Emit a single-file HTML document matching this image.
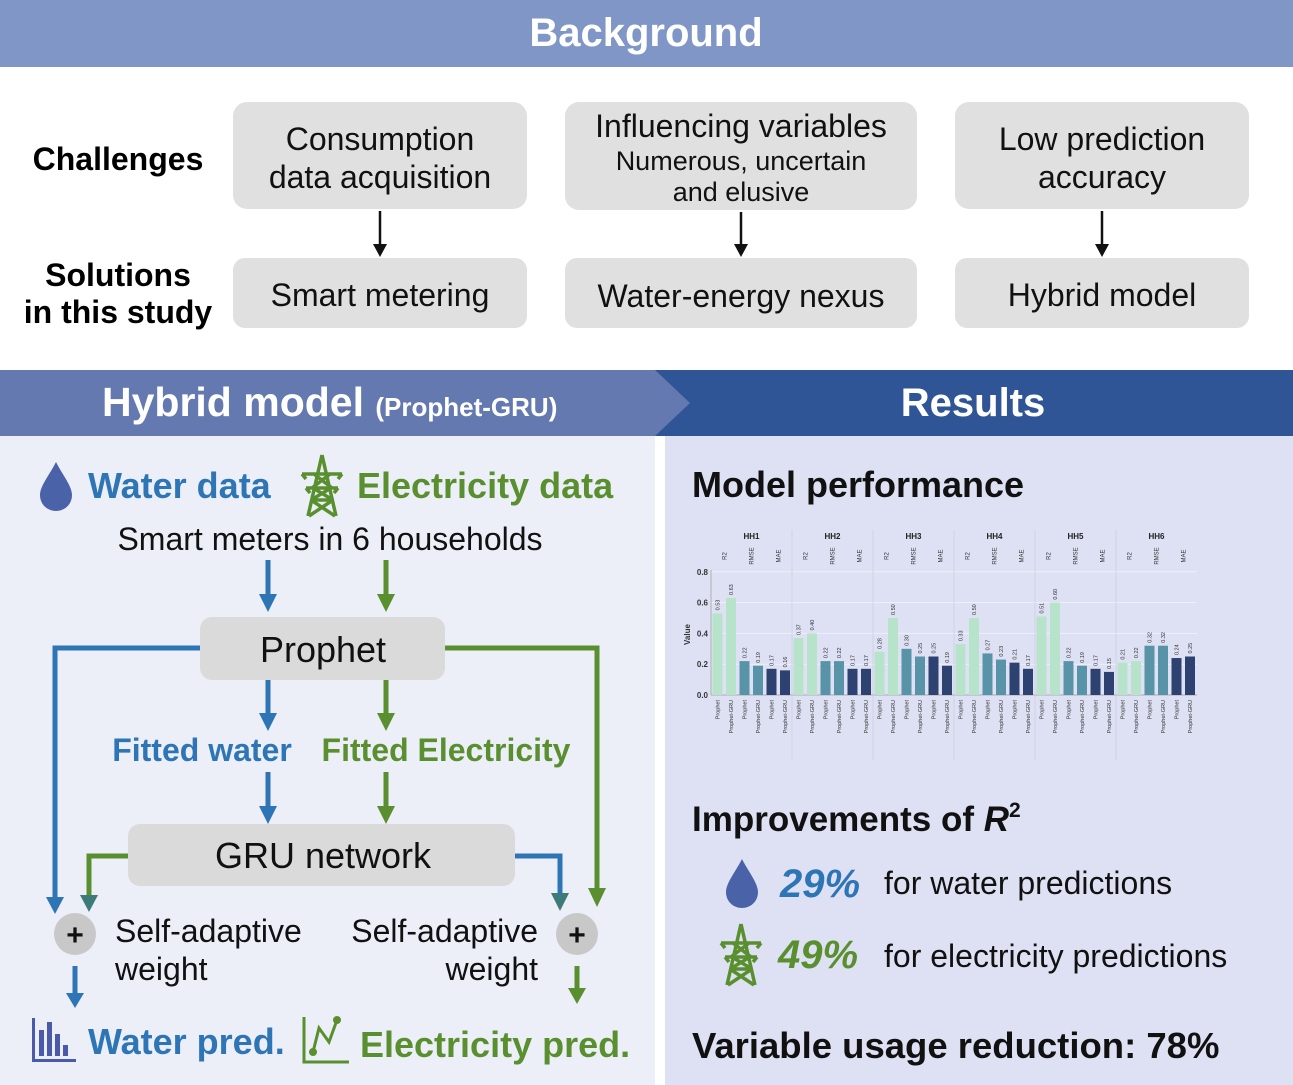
<!DOCTYPE html>
<html><head><meta charset="utf-8"><style>
html,body{margin:0;padding:0;background:#fff}
svg{display:block;font-family:"Liberation Sans",Arial,sans-serif}
</style></head><body>
<svg id="s" width="1293" height="1085" viewBox="0 0 1293 1085" xmlns="http://www.w3.org/2000/svg">
<defs>
<g id="tower" fill="none" stroke-width="3.5" stroke-linejoin="round">
<path d="M0,-31 L-14,30 M0,-31 L14,30 M-20,-12 L20,-12 M-20,-12 L-16,-7 M20,-12 L16,-7 M-16,2 L16,2 M-16,2 L-12,7 M16,2 L12,7 M-8,-12 L10,2 M8,-12 L-10,2 M-11,14 L11,14 M-11,14 L13,30 M11,14 L-13,30 M-9,2 L11,14 M9,2 L-11,14"/>
</g>
<path id="drop" d="M0,-24 C6,-12 16,0 16,9 C16,19 8,25 0,25 C-8,25 -16,19 -16,9 C-16,0 -6,-12 0,-24Z"/>
</defs>
<rect x="0" y="0" width="1293" height="67" fill="#8096c6"/>
<text x="646" y="46" font-size="40" font-weight="bold" fill="#fff" text-anchor="middle">Background</text>
<text x="118" y="170" font-size="32" font-weight="bold" text-anchor="middle">Challenges</text>
<text x="118" y="286" font-size="32" font-weight="bold" text-anchor="middle">Solutions</text>
<text x="118" y="323" font-size="32" font-weight="bold" text-anchor="middle">in this study</text>
<g fill="#e0e0e0">
<rect x="233" y="102" width="294" height="107" rx="14"/>
<rect x="565" y="102" width="352" height="108" rx="14"/>
<rect x="955" y="102" width="294" height="107" rx="14"/>
<rect x="233" y="258" width="294" height="70" rx="12"/>
<rect x="565" y="258" width="352" height="70" rx="12"/>
<rect x="955" y="258" width="294" height="70" rx="12"/>
</g>
<g font-size="32" text-anchor="middle" fill="#111">
<text x="380" y="150">Consumption</text>
<text x="380" y="188">data acquisition</text>
<text x="741" y="137">Influencing variables</text>
<text x="741" y="170" font-size="27">Numerous, uncertain</text>
<text x="741" y="201" font-size="27">and elusive</text>
<text x="1102" y="150">Low prediction</text>
<text x="1102" y="188">accuracy</text>
<text x="380" y="306">Smart metering</text>
<text x="741" y="307">Water-energy nexus</text>
<text x="1102" y="306">Hybrid model</text>
</g>
<g stroke="#111" stroke-width="2.5" fill="#111">
<line x1="380" y1="211" x2="380" y2="248"/><path d="M373,244 L387,244 L380,257Z" stroke="none"/>
<line x1="741" y1="212" x2="741" y2="248"/><path d="M734,244 L748,244 L741,257Z" stroke="none"/>
<line x1="1102" y1="211" x2="1102" y2="248"/><path d="M1095,244 L1109,244 L1102,257Z" stroke="none"/>
</g>
<rect x="0" y="370" width="1293" height="66" fill="#fff"/>
<polygon points="655,370 1293,370 1293,436 655,436" fill="#2f5597"/>
<polygon points="0,370 655,370 690,403 655,436 0,436" fill="#6479b0"/>
<text x="102" y="416" font-size="41" font-weight="bold" fill="#fff">Hybrid model <tspan font-size="26">(Prophet-GRU)</tspan></text>
<text x="973" y="416" font-size="40" font-weight="bold" fill="#fff" text-anchor="middle">Results</text>
<rect x="0" y="436" width="655" height="649" fill="#eceff7"/>
<rect x="665" y="436" width="628" height="649" fill="#dee1f3"/>
<use href="#drop" x="56" y="486" fill="#4a62a8"/>
<text x="88" y="498" font-size="36" font-weight="bold" fill="#2e75b6">Water data</text>
<use href="#tower" x="322" y="486" stroke="#5a8f30"/>
<text x="357" y="498" font-size="36" font-weight="bold" fill="#5a8f30">Electricity data</text>
<text x="330" y="550" font-size="32" text-anchor="middle" fill="#111">Smart meters in 6 households</text>
<rect x="200" y="617" width="245" height="63" rx="12" fill="#dadada"/>
<text x="323" y="662" font-size="36" text-anchor="middle" fill="#111">Prophet</text>
<rect x="128" y="824" width="387" height="62" rx="12" fill="#dadada"/>
<text x="323" y="868" font-size="36" text-anchor="middle" fill="#111">GRU network</text>
<text x="202" y="761" font-size="32" font-weight="bold" fill="#2e75b6" text-anchor="middle">Fitted water</text>
<text x="446" y="761" font-size="32" font-weight="bold" fill="#5a8f30" text-anchor="middle">Fitted Electricity</text>
<g fill="none" stroke-width="5">
<g stroke="#2e75b6">
<line x1="268" y1="560" x2="268" y2="596"/><line x1="268" y1="680" x2="268" y2="715"/><line x1="268" y1="772" x2="268" y2="808"/>
<polyline points="200,648 55,648 55,900"/>
<polyline points="515,856 560,856 560,895"/>
<line x1="75" y1="966" x2="75" y2="995"/>
</g>
<g stroke="#5a8f30">
<line x1="386" y1="560" x2="386" y2="596"/><line x1="386" y1="680" x2="386" y2="715"/><line x1="386" y1="772" x2="386" y2="808"/>
<polyline points="445,648 597,648 597,890"/>
<polyline points="128,856 89,856 89,897"/>
<line x1="577" y1="966" x2="577" y2="990"/>
</g>
</g>
<g fill="#2e75b6">
<path d="M259,594 L277,594 L268,612Z"/><path d="M259,713 L277,713 L268,731Z"/><path d="M259,806 L277,806 L268,824Z"/>
<path d="M46,897 L64,897 L55,914Z"/><path d="M66,993 L84,993 L75,1008Z"/>
</g>
<path d="M551,893 L569,893 L560,911Z" fill="#3d7a7a"/>
<path d="M80,895 L98,895 L89,912Z" fill="#3d7a7a"/>
<g fill="#5a8f30">
<path d="M377,594 L395,594 L386,612Z"/><path d="M377,713 L395,713 L386,731Z"/><path d="M377,806 L395,806 L386,824Z"/>
<path d="M588,888 L606,888 L597,907Z"/><path d="M568,988 L586,988 L577,1004Z"/>
</g>
<circle cx="75" cy="934" r="21" fill="#c8c8c8"/><text x="75" y="945" font-size="30" text-anchor="middle" font-weight="bold" fill="#111">+</text>
<circle cx="577" cy="934" r="21" fill="#c8c8c8"/><text x="577" y="945" font-size="30" text-anchor="middle" font-weight="bold" fill="#111">+</text>
<g font-size="32" fill="#111">
<text x="115" y="942">Self-adaptive</text><text x="115" y="980">weight</text>
<text x="538" y="942" text-anchor="end">Self-adaptive</text><text x="538" y="980" text-anchor="end">weight</text>
</g>
<g fill="#4a5aa8"><rect x="32" y="1018" width="3" height="44"/><rect x="32" y="1059" width="44" height="3"/><rect x="39" y="1030" width="5" height="26"/><rect x="47" y="1022" width="5" height="34"/><rect x="55" y="1034" width="5" height="22"/><rect x="63" y="1045" width="5" height="11"/></g>
<text x="88" y="1054" font-size="36" font-weight="bold" fill="#2e75b6">Water pred.</text>
<g stroke="#5a8f30" stroke-width="3" fill="#5a8f30"><polyline points="304,1017 304,1062 349,1062" fill="none"/><polyline points="313,1052 319,1028 329,1042 337,1020" fill="none"/><circle cx="313" cy="1052" r="2.5"/><circle cx="337" cy="1020" r="2.5"/></g>
<text x="360" y="1057" font-size="36" font-weight="bold" fill="#5a8f30">Electricity pred.</text>
<text x="692" y="497" font-size="36" font-weight="bold" fill="#111">Model performance</text>
<g id="chart"></g>
<text x="692" y="831" font-size="35" font-weight="bold" fill="#111">Improvements of <tspan font-style="italic">R</tspan><tspan font-size="21" dy="-14">2</tspan></text>
<use href="#drop" x="742" y="883" fill="#4a62a8"/>
<text x="780" y="897" font-size="40" font-weight="bold" font-style="italic" fill="#2e75b6">29%</text>
<text x="884" y="894" font-size="32" fill="#111">for water predictions</text>
<use href="#tower" x="741" y="955" stroke="#5a8f30"/>
<text x="778" y="968" font-size="40" font-weight="bold" font-style="italic" fill="#5a8f30">49%</text>
<text x="884" y="967" font-size="32" fill="#111">for electricity predictions</text>
<text x="692" y="1058" font-size="36.5" font-weight="bold" fill="#111">Variable usage reduction: 78%</text>
</svg>
<script>
(function(){
var NS="http://www.w3.org/2000/svg",g=document.getElementById("chart");
function el(t,a,txt){var e=document.createElementNS(NS,t);for(var k in a)e.setAttribute(k,a[k]);if(txt!==undefined)e.textContent=txt;g.appendChild(e);return e;}
var data=[[.53,.63,.22,.19,.17,.16],[.37,.40,.22,.22,.17,.17],[.28,.50,.30,.25,.25,.19],[.33,.50,.27,.23,.21,.17],[.51,.60,.22,.19,.17,.15],[.21,.22,.32,.32,.24,.25]];
var cols=["#b8e3cb","#b8e3cb","#5993a8","#5993a8","#2d4270","#2d4270"];
var y0=695,s=154,x0=711,w=13.5;
[0.2,0.4,0.6,0.8].forEach(function(v){el("line",{x1:711,x2:1197,y1:y0-v*s,y2:y0-v*s,stroke:"#eef0fa","stroke-width":1});});
for(var v=0;v<=0.8;v+=0.2){el("text",{x:708,y:y0-v*s+3,"font-size":8,"font-weight":"bold","text-anchor":"end",fill:"#333"},v.toFixed(1));}
el("text",{x:0,y:0,"font-size":8,"font-weight":"bold",transform:"translate(690,645) rotate(-90)",fill:"#333"},"Value");
el("line",{x1:711,x2:711,y1:570,y2:695,stroke:"#999","stroke-width":0.7});
el("line",{x1:711,x2:1197,y1:695,y2:695,stroke:"#999","stroke-width":0.7});
var met=["R2","RMSE","MAE"];
for(var h=0;h<6;h++){
 var hx=x0+h*6*w;
 el("text",{x:hx+3*w,y:539,"font-size":8,"font-weight":"bold","text-anchor":"middle",fill:"#222"},"HH"+(h+1));
 if(h>0)el("line",{x1:hx,x2:hx,y1:530,y2:760,stroke:"#c9cde0","stroke-width":0.7});
 for(var m=0;m<3;m++){
  var mx=hx+m*2*w+w;
  el("text",{x:0,y:0,"font-size":6,transform:"translate("+(mx+2)+",556) rotate(-90)","text-anchor":"middle",fill:"#333"},met[m]);
 }
 for(var i=0;i<6;i++){
  var x=hx+i*w,v=data[h][i],hh=v*s;
  el("rect",{x:x+1.5,y:y0-hh,width:10,height:hh,fill:cols[i]});
  el("text",{x:0,y:0,"font-size":5.5,transform:"translate("+(x+8.5)+","+(y0-hh-3)+") rotate(-90)",fill:"#333"},v.toFixed(2));
  el("text",{x:0,y:0,"font-size":5.5,transform:"translate("+(x+8.5)+",700) rotate(-90)","text-anchor":"end",fill:"#333"},i%2?"Prophet-GRU":"Prophet");
 }
}
})();
</script>
</body></html>
